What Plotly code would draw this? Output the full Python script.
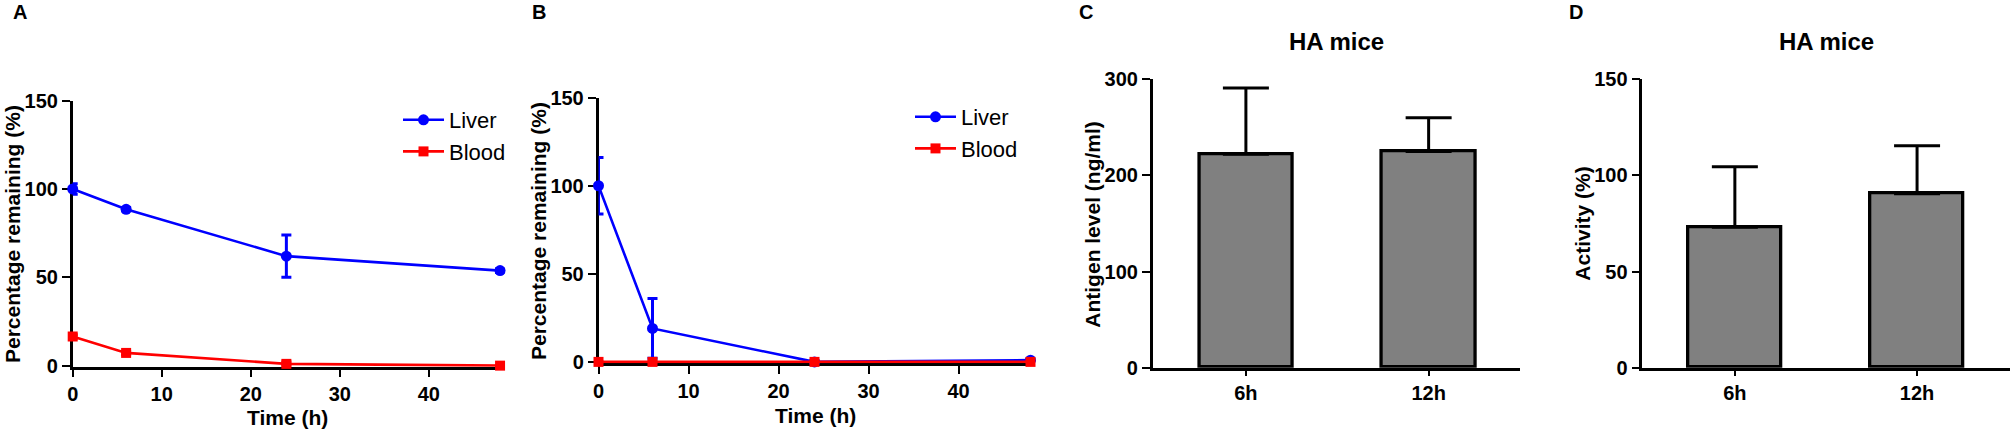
import plotly.graph_objects as go

# ---------------- data ----------------
time_h = [0, 6, 24, 48]

# Panel A
a_liver = [100, 88.5, 62, 53.8]
a_liver_err = [3, 1, 12, 1]
a_blood = [16.5, 7.2, 1.0, 0]
a_blood_err = [1, 1, 1, 0]

# Panel B
b_liver = [100, 19, 0, 1]
b_liver_err = [16, 17, 0.5, 0.5]
b_blood = [0, 0, 0, 0]
b_blood_err = [0, 0, 0, 0]

# Panels C / D
bar_cats = ["6h", "12h"]
c_antigen = [222, 225]
c_antigen_err = [69, 35]
d_activity = [73, 90.5]
d_activity_err = [31.5, 25]

W, H = 2012, 432
FONT = "Liberation Sans, Arial, sans-serif"
BLUE = "#0000ff"
RED = "#ff0000"
BAR_GRAY = "#808080"

fig = go.Figure()

def line_trace(x, y, err, name, color, symbol, xa, ya, legend, size):
    return go.Scatter(
        x=x, y=y, name=name, mode="lines+markers",
        line=dict(color=color, width=2.6),
        marker=dict(color=color, symbol=symbol, size=size),
        error_y=dict(type="data", array=err, visible=True, color=color,
                     thickness=3, width=5),
        xaxis=xa, yaxis=ya, legend=legend, cliponaxis=False,
    )

fig.add_trace(line_trace(time_h, a_liver, a_liver_err, "Liver", BLUE, "circle", "x", "y", "legend", 11))
fig.add_trace(line_trace(time_h, a_blood, a_blood_err, "Blood", RED, "square", "x", "y", "legend", 10))
fig.add_trace(line_trace(time_h, b_liver, b_liver_err, "Liver", BLUE, "circle", "x2", "y2", "legend2", 11))
fig.add_trace(line_trace(time_h, b_blood, b_blood_err, "Blood", RED, "square", "x2", "y2", "legend2", 10))

def bar_trace(vals, errs, xa, ya):
    return go.Bar(
        x=bar_cats, y=vals, width=0.51,
        marker=dict(color=BAR_GRAY, line=dict(color="black", width=3.3)),
        error_y=dict(type="data", symmetric=False, array=errs,
                     arrayminus=[0] * len(errs), color="black",
                     thickness=3, width=23),
        xaxis=xa, yaxis=ya, showlegend=False,
    )

fig.add_trace(bar_trace(c_antigen, c_antigen_err, "x3", "y3"))
fig.add_trace(bar_trace(d_activity, d_activity_err, "x4", "y4"))

tickfont = dict(family=FONT, size=20, color="black", weight="bold")

def xax(domain, rng, anchor, dtick=None, ticklen=8, cat=False):
    d = dict(domain=domain, range=rng, anchor=anchor, showline=True,
             linecolor="black", linewidth=2.5, ticks="outside", ticklen=ticklen,
             tickwidth=2, tickcolor="black", showgrid=False, zeroline=False,
             tickfont=tickfont, layer="below traces", automargin=False)
    if cat:
        d.update(type="category", categoryorder="array", categoryarray=bar_cats)
    else:
        d.update(tickmode="linear", tick0=0, dtick=dtick)
    return d

def yax(domain, rng, anchor, dtick):
    return dict(domain=domain, range=rng, anchor=anchor, showline=True,
                linecolor="black", linewidth=2.5, ticks="outside", ticklen=8,
                tickwidth=2, tickcolor="black", showgrid=False, zeroline=False,
                tickmode="linear", tick0=0, dtick=dtick, tickfont=tickfont,
                layer="below traces", automargin=False)

def px_x(p):
    return p / W

def px_y(p):
    return (H - p) / H

legend_font = dict(family=FONT, size=22, color="black")

fig.update_layout(
    width=W, height=H,
    margin=dict(l=0, r=0, t=0, b=0, pad=0, autoexpand=False),
    paper_bgcolor="white", plot_bgcolor="white",
    font=dict(family=FONT, color="black"),
    bargap=0,
    xaxis=xax([px_x(72.7), px_x(504.5)], [0, 48.5], "y", dtick=10),
    yaxis=yax([px_y(366.7), px_y(100.7)], [-0.6, 150], "x", 50),
    xaxis2=xax([px_x(598.5), px_x(1035)], [0, 48.5], "y2", dtick=10),
    yaxis2=yax([px_y(363.3), px_y(97.7)], [-0.8, 150], "x2", 50),
    xaxis3=xax([px_x(1152.7), px_x(1520)], [-0.51, 1.5], "y3", ticklen=6, cat=True),
    yaxis3=yax([px_y(367.7), px_y(79.3)], [0, 300], "x3", 100),
    xaxis4=xax([px_x(1642.3), px_x(2010)], [-0.508, 1.51], "y4", ticklen=6, cat=True),
    yaxis4=yax([px_y(367.7), px_y(79.3)], [0, 150], "x4", 50),
    legend=dict(x=px_x(398), y=px_y(99), xanchor="left", yanchor="top",
                font=legend_font, bgcolor="rgba(0,0,0,0)",
                tracegroupgap=0, itemwidth=41),
    legend2=dict(x=px_x(910), y=px_y(96), xanchor="left", yanchor="top",
                 font=legend_font, bgcolor="rgba(0,0,0,0)",
                 tracegroupgap=0, itemwidth=41),
)

anns = []
def ann(text, x, y, size, angle=0, weight="bold"):
    anns.append(dict(text=text, x=px_x(x), y=px_y(y), xref="paper", yref="paper",
                     xanchor="center", yanchor="middle", showarrow=False,
                     textangle=angle,
                     font=dict(family=FONT, size=size, color="black", weight=weight)))

# panel letters
ann("A", 20, 12, 20)
ann("B", 539, 12, 20)
ann("C", 1086, 12, 20)
ann("D", 1576, 12, 20)
# axis titles
ann("Percentage remaining (%)", 12, 234, 21, -90)
ann("Time (h)", 287.5, 417, 21)
ann("Percentage remaining (%)", 538, 231, 21, -90)
ann("Time (h)", 815, 415, 21)
ann("Antigen level (ng/ml)", 1091.7, 224, 21, -90)
ann("Activity (%)", 1581.7, 224, 21, -90)
# chart titles
ann("HA mice", 1336.7, 41.7, 24)
ann("HA mice", 1826.7, 41.7, 24)

fig.update_layout(annotations=anns)

fig.write_html(
    "out.html",
    config={"displayModeBar": False},
    post_script="document.body.style.margin='0';document.body.style.padding='0';"
                "document.body.style.overflow='hidden';"
                "document.documentElement.style.overflow='hidden';",
)
